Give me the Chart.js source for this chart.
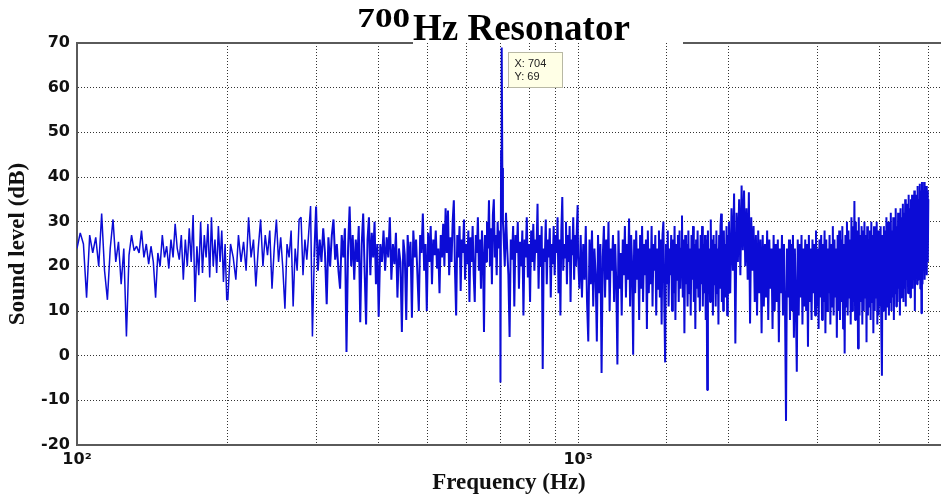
<!DOCTYPE html>
<html>
<head>
<meta charset="utf-8">
<title>700 Hz Resonator</title>
<script src="https://cdn.jsdelivr.net/npm/chart.js@4.4.1/dist/chart.umd.min.js"></script>
<style>
  html, body { margin: 0; padding: 0; background: #fff; }
</style>
</head>
<body>
<canvas id="spectrum" width="941" height="499"></canvas>
<script>
// Measured spectrum, split into runs of evenly spaced bins (start Hz, bin width Hz, levels dB)
const seg1Start = 100, seg1Step = 1.5;
const seg1Levels = [
  24, 27.5, 25, 13, 27, 23, 26.5, 20, 31.8, 19,
  12.5, 24, 30.5, 21, 25.5, 16, 24, 4.3, 22.5, 27,
  23.5, 24.5, 23, 28, 22, 25, 20.5, 24.5, 21, 13,
  23, 20, 27, 22, 24.5, 19.5, 26, 22, 29.5, 24,
  21.5, 27, 17, 26, 20, 28.5, 21, 31.5, 12, 24.5,
  18, 30, 18.5, 27, 22, 29.5, 17.5, 31, 20, 26,
  18.5, 29, 21, 28, 16.5, 25, 12.5
];

const seg2Start = 200, seg2Step = 2.5;
const seg2Levels = [
  12.5, 25, 22, 17, 27, 21, 25.5, 19, 31, 22,
  26, 15.5, 24, 30.5, 20, 27, 22.5, 28, 15, 24,
  30.5, 21, 26.5, 19.5, 10.5, 25, 22, 28, 11, 24,
  19, 30.5, 31, 18, 26, 21.5, 27.5, 33.5, 4.3, 22,
  33.4, 19, 26, 21, 28.5, 23, 11.5, 26.5, 20, 27,
  30.5, 21.5, 25, 19, 15, 27, 22, 28.5, 0.8, 24,
  33.4, 20, 27, 17, 26, 21, 29, 7.5, 25, 31.8,
  19, 7, 26, 31, 18, 27.5, 22, 30, 16, 25
];

const seg3Start = 400, seg3Step = 3;
const seg3Levels = [
  8.7, 25, 21, 28, 19, 26.5, 22, 31, 17, 25,
  20.5, 27.5, 13, 24, 21, 5.3, 26, 22.5, 8, 27,
  20, 25.5, 8.5, 28, 22, 26, 18, 10, 27, 23,
  31.8, 19, 25, 10, 27.5, 21, 29, 16, 26, 22.5,
  28, 19.5, 24, 14, 27, 22, 29.5, 20, 33, 23,
  32.5, 18, 26.5, 21, 30, 34.8, 19, 9, 27, 22,
  29, 14.5, 26, 23, 30.5, 17, 25, 20.5, 28, 12,
  26.5, 21, 29, 18, 12, 27, 23, 31, 19, 26,
  15, 28, 22, 5.3, 27, 21, 30, 24, 34.8, 20,
  28.5, 16, 31.5, 35, 22, 27, 18, 30, 24, 26
];

// resonance peak
const peakFreqs = [699, 700, 702, 704, 706, 708];
const peakLevels = [28, -6, 46, 69, 42, 30];

const seg4Start = 710, seg4Step = 4;
const seg4Levels = [
  27, 20, 32, 24, 18, 4.2, 26, 21.5, 29, 11,
  27, 23, 30, 15, 25.5, 20, 28, 9, 26, 22,
  31, 17.5, 25, 12, 28, 21, 29.5, 19, 26, 23,
  34, 15, 27, 20, 29, -3, 24, 21, 30.5, 16,
  26, 22, 28.5, 13, 25, 20.5, 29, 18, 27, 23,
  31, 14, 26, 9, 28, 35.5, 19, 25, 22, 30,
  16, 27, 21, 29, 12, 26, 22.5, 31, 17, 27,
  20, 28, 33.7
];

const seg5Start = 1000, seg5Step = 6;
const seg5Levels = [
  22, 15, 27, 13, 25, 17, 29, 12, 3.2, 26,
  16, 28, 11, 24, 18, 3.2, 27, 14, 25, -3.9,
  22, 29, 13, 26, 17, 30, 10, 24, 19, 27,
  12, 25, 16, -2, 28, 15, 23, 9, 26, 18,
  29, 13, 25, 17, 30.7, 11, 27, 20, 0.2, 26,
  14, 28, 17, 24, 8, 27, 15, 29, 12, 25,
  18, 26, 6, 28, 14, 24, 16, 29, 11, 25,
  19, 27, 9, 24, 15, 28, 13, 26, 7, 27,
  30, 12, -1.5, 25, 16, 28, 11, 24, 18, 27,
  10, 26, 14, 29, 8, 25, 17, 27, 12, 28,
  15, 24, 31.4, 13, 26, 5, 27, 16, 25, 11,
  28, 14, 24, 9, 27, 17, 29, 12, 25, 6,
  26, 15, 28, 13, 24, 10, 27, 16, 29, 11,
  25, 14, 27, 8, 26, -7.7, 28, 15, 24, 12,
  30.5, 13, 26, 9, 27, 16, 25, 11, 28, 14,
  24, 7, 27, 15, 29, 31.8, 12, 26, 10, 28,
  16, 25, 13, 29, 9, 27, 14
];

const seg6Start = 2000, seg6Step = 12;
const seg6Levels = [
  30, 14, 33, 19, 36.3, 2.7, 32, 21, 35, 18,
  38.1, 23.6, 37, 20, 33, 17, 36.6, 7.2, 31, 19,
  29, 12, 27, 9, 28, 14, 26, 5, 27, 11,
  25, 13, 28, 8, 26, 15, 24, 6, 27, 10,
  25, 12, 26, 3, 24, 14, 27, 9, 25, 11,
  -14.6, 24, 13, 26, 8, 25, 10, 27, 4, 24,
  12, -3.6, 26, 9, 25, 13, 27, 7, 24, 11,
  26, 10, 25, 2, 27, 12, 24, 8, 26, 14,
  25, 9, 28, 11, 24, 6, 26, 13, 27, 8,
  25, 12, 28, 5, 26, 10, 24, 14, 27, 7,
  25, 11, 29, 9, 26, 13, 24, 4, 27, 10,
  28, 8, 26, 12, 29, 6, 25, 0.5, 27, 11,
  30, 9, 28, 13, 26, 7, 31, 10, 29, 12,
  34.6, 8, 30, 11, 28, 1.6, 31, 9, 27, 12,
  29, 7, 28, 10, 30, 13, 27, 3, 29, 9,
  26, 11, 28, 8, 30, 12, 27, 5, 29, 10,
  27, 13, 30, 7, 28, 9, 26, 11, 29, 6,
  -4.5, 27, 10, 29, 12, 28, 8, 31, 11, 27,
  30, 9, 29, 12, 32, 10, 28, 13, 31, 8,
  30, 14, 33, 11, 29, 12, 32, 15, 30, 9,
  33, 13, 31, 16, 34, 12, 32, 15, 35, 11,
  33, 17, 34, 14, 36, 16, 33, 13, 35, 18,
  36, 15, 34, 17, 37, 10, 35, 19, 36, 16,
  38, 17, 35, 20, 38.5, 15, 37, 9.5, 38.9, 16,
  37, 19, 38.9, 17, 36, 20, 38, 18, 37, 21, 35
];

// axis ranges and labelled decades
const freqMin = 100, freqMax = 5300;
const levelMin = -20, levelMax = 70, levelStep = 10;
const decadeTicks = [100, 1000];
const decadeLabels = ['10\u00b2', '10\u00b3'];

function segmentPoints(start, step, levels) {
  return levels.map((v, i) => ({ x: start + step * i, y: v }));
}

const points = [].concat(
  segmentPoints(seg1Start, seg1Step, seg1Levels),
  segmentPoints(seg2Start, seg2Step, seg2Levels),
  segmentPoints(seg3Start, seg3Step, seg3Levels),
  peakFreqs.map((f, i) => ({ x: f, y: peakLevels[i] })),
  segmentPoints(seg4Start, seg4Step, seg4Levels),
  segmentPoints(seg5Start, seg5Step, seg5Levels),
  segmentPoints(seg6Start, seg6Step, seg6Levels)
);

const frameColor = '#5a5a5a';

// Title, top frame with the gap under the title, and the data tip on the peak
const decorations = {
  id: 'decorations',
  afterDraw(chart) {
    const { ctx, chartArea, scales } = chart;
    ctx.save();

    ctx.strokeStyle = frameColor;
    ctx.lineWidth = 2;
    ctx.beginPath();
    ctx.moveTo(chartArea.left, chartArea.top);
    ctx.lineTo(413, chartArea.top);
    ctx.moveTo(683, chartArea.top);
    ctx.lineTo(chartArea.right, chartArea.top);
    ctx.stroke();

    ctx.fillStyle = '#000';
    ctx.textBaseline = 'alphabetic';
    // the raised "700" is set wider than the rest of the title
    ctx.save();
    ctx.translate(410, 27);
    ctx.scale(1.3, 1);
    ctx.textAlign = 'right';
    ctx.font = 'bold 27px "Liberation Serif", "Times New Roman", serif';
    ctx.fillText('700', 0, 0);
    ctx.restore();
    ctx.textAlign = 'left';
    ctx.font = 'bold 37px "Liberation Serif", "Times New Roman", serif';
    ctx.fillText('Hz Resonator', 413, 40);

    const tip = points.reduce((a, b) => (b.y > a.y ? b : a));
    const px = Math.round(scales.x.getPixelForValue(tip.x));
    const py = Math.round(scales.y.getPixelForValue(tip.y));
    const bx = px + 6.5, by = py + 5.5;
    ctx.fillStyle = '#ffffe6';
    ctx.strokeStyle = '#b8b8a4';
    ctx.lineWidth = 1;
    ctx.fillRect(bx, by, 54, 35);
    ctx.strokeRect(bx, by, 54, 35);
    ctx.fillStyle = '#222';
    ctx.font = '11px "Liberation Sans", Arial, sans-serif';
    ctx.fillText('X: ' + tip.x, bx + 6, by + 14);
    ctx.fillText('Y: ' + tip.y, bx + 6, by + 27);

    ctx.restore();
  }
};

const tickFont = { family: '"DejaVu Sans", Verdana, sans-serif', weight: 'bold', size: 16 };
const titleFont = { family: '"Liberation Serif", "Times New Roman", serif', weight: 'bold', size: 23 };

new Chart(document.getElementById('spectrum'), {
  type: 'line',
  data: {
    datasets: [{
      label: 'Sound level',
      data: points,
      borderColor: '#0c0cd6',
      borderWidth: 2,
      borderJoinStyle: 'bevel',
      pointRadius: 0,
      tension: 0,
      fill: false,
      // sparse low end reads as a thinner trace
      segment: {
        borderWidth: (s) => (s.p1.parsed.x < 300 ? 1.5 : 2)
      }
    }]
  },
  plugins: [decorations],
  options: {
    responsive: false,
    animation: false,
    devicePixelRatio: 1,
    layout: { padding: { top: 43, left: 0, right: 0, bottom: 0 } },
    plugins: {
      legend: { display: false },
      tooltip: { enabled: false }
    },
    scales: {
      x: {
        type: 'logarithmic',
        min: freqMin,
        max: freqMax,
        afterFit: (scale) => {
          scale.height = 54;
          scale.paddingRight = 0;
          scale.paddingLeft = 0;
        },
        border: { display: true, color: frameColor, width: 2, dash: [1, 2] },
        grid: {
          drawTicks: false,
          lineWidth: 1,
          color: (c) => (c.tick && (c.tick.value <= freqMin || c.tick.value > 5000)) ? 'rgba(0,0,0,0)' : '#333'
        },
        ticks: {
          autoSkip: false,
          maxRotation: 0,
          padding: 5,
          color: '#111',
          font: tickFont,
          callback: (v) => {
            const k = decadeTicks.indexOf(v);
            return k >= 0 ? decadeLabels[k] : '';
          }
        },
        title: {
          display: true,
          text: 'Frequency (Hz)',
          color: '#111',
          font: titleFont,
          padding: { top: 0, bottom: 2 }
        }
      },
      y: {
        min: levelMin,
        max: levelMax,
        afterFit: (scale) => { scale.width = 77; },
        border: { display: true, color: frameColor, width: 2, dash: [1, 2] },
        grid: {
          drawTicks: false,
          lineWidth: 1,
          color: (c) => (c.tick && (c.tick.value === levelMin || c.tick.value === levelMax)) ? 'rgba(0,0,0,0)' : '#333'
        },
        ticks: {
          stepSize: levelStep,
          padding: 7,
          color: '#111',
          font: tickFont
        },
        title: {
          display: true,
          text: 'Sound level (dB)',
          color: '#111',
          font: titleFont,
          padding: { top: 4, bottom: 0 }
        }
      }
    }
  }
});
</script>
</body>
</html>
